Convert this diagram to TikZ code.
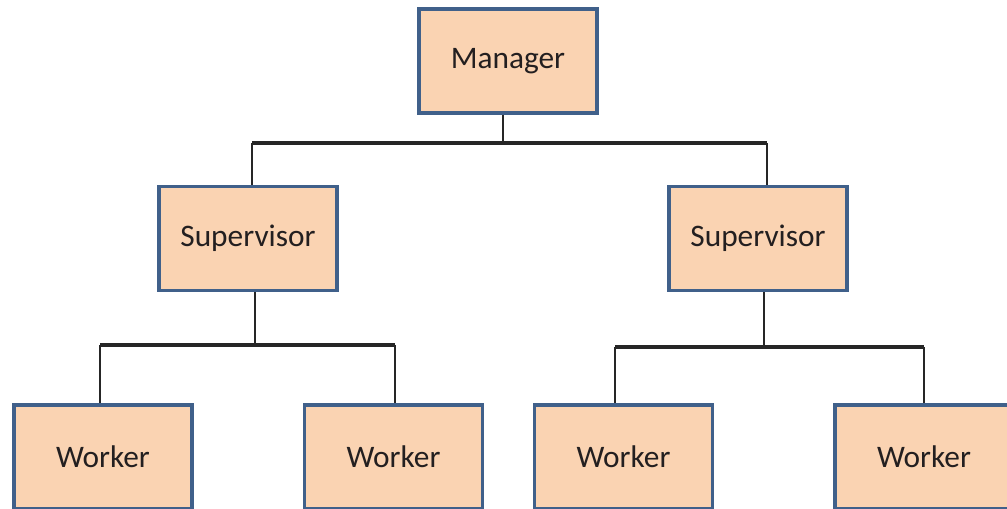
\documentclass[tikz,border=0pt]{standalone}
\usepackage{fontspec}
\setmainfont{Carlito}
\usetikzlibrary{calc}
\definecolor{boxfill}{HTML}{FAD3B2}
\definecolor{boxline}{HTML}{40608A}
\definecolor{txt}{HTML}{231F20}
\tikzset{
  orgbox/.style={draw=boxline, fill=boxfill, line width=2.5pt, minimum width=133.5pt, minimum height=78pt, inner sep=0pt, font=\fontsize{23.5}{28}\selectfont, text=txt},
  vline/.style={draw=black!85, line width=1.7pt},
  hline/.style={draw=black!85, line width=2.4pt}
}
\begin{document}
\begin{tikzpicture}[x=0.75pt,y=-0.75pt]
\useasboundingbox (0,0) rectangle (1007,508);
\clip (0,0) rectangle (1007,508);
\fill[white] (0,0) rectangle (1007,508);
\node[orgbox] (mgr) at (508,61) {Manager};
\node[orgbox] (s1) at (248,238.5) {Supervisor};
\node[orgbox] (s2) at (758,238.5) {Supervisor};
\node[orgbox] (w1) at (103,457) {Worker};
\node[orgbox] (w2) at (393.5,457) {Worker};
\node[orgbox] (w3) at (623.5,457) {Worker};
\node[orgbox] (w4) at (924,457) {Worker};
% attachment points
\coordinate (m0) at ($(mgr.south)+(-5,0)$);
\coordinate (a1) at ($(s1.north)+(4,0)$);
\coordinate (a2) at ($(s2.north)+(9,0)$);
\coordinate (b1) at ($(s1.south)+(7,0)$);
\coordinate (b2) at ($(s2.south)+(6,0)$);
\coordinate (c1) at ($(w1.north)+(-3,0)$);
\coordinate (c2) at ($(w2.north)+(1.5,0)$);
\coordinate (c3) at ($(w3.north)+(-8.5,0)$);
\coordinate (c4) at ($(w4.north)+(0,0)$);
\coordinate (h0) at (0,143);
\coordinate (h1) at (0,345);
\coordinate (h2) at (0,347);
% level 1
\draw[vline] (m0) -- (m0 |- h0);
\draw[hline] (a1 |- h0) -- (a2 |- h0);
\draw[vline] (a1 |- h0) -- (a1);
\draw[vline] (a2 |- h0) -- (a2);
% level 2 left
\draw[vline] (b1) -- (b1 |- h1);
\draw[hline] (c1 |- h1) -- (c2 |- h1);
\draw[vline] (c1 |- h1) -- (c1);
\draw[vline] (c2 |- h1) -- (c2);
% level 2 right
\draw[vline] (b2) -- (b2 |- h2);
\draw[hline] (c3 |- h2) -- (c4 |- h2);
\draw[vline] (c3 |- h2) -- (c3);
\draw[vline] (c4 |- h2) -- (c4);
\end{tikzpicture}
\end{document}
